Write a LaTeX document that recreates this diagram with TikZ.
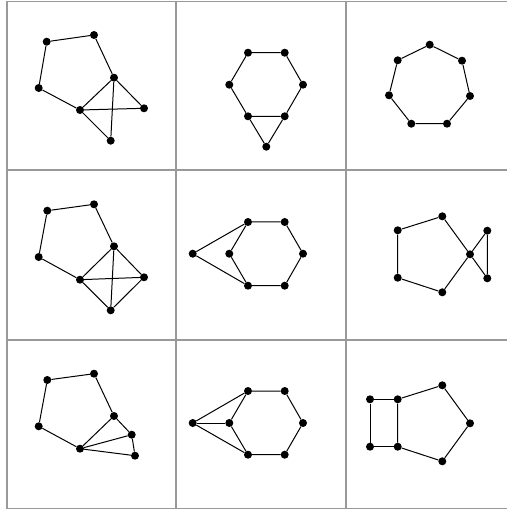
\documentclass[tikz,border=0pt]{standalone}
\usepackage{tikz}
\usetikzlibrary{positioning}

\begin{document}
\begin{tikzpicture}[
    x=1pt, y=-1pt,
    vertex/.style={circle, fill=black, inner sep=0pt, minimum size=8pt},
    edge/.style={line width=1pt, black},
    gridline/.style={line width=1.1pt, black!40}
]
    \useasboundingbox (0,0) rectangle (507,510);

    % Grid
    \draw[gridline] (7,1.5) -- (507,1.5);
    \draw[gridline] (7,170) -- (507,170);
    \draw[gridline] (7,340) -- (507,340);
    \draw[gridline] (7,508.5) -- (507,508.5);
    \draw[gridline] (7,1.5) -- (7,508.5);
    \draw[gridline] (176,1.5) -- (176,508.5);
    \draw[gridline] (346,1.5) -- (346,508.5);

    % Cell 1: pentagon with triangle and spike
    \node[vertex] (pa) at (46.7,41.7) {};
    \node[vertex] (pb) at (94,35) {};
    \node[vertex] (pc) at (114,77.7) {};
    \node[vertex] (pd) at (144,108.3) {};
    \node[vertex] (pe) at (110.7,140.7) {};
    \node[vertex] (pf) at (80,110) {};
    \node[vertex] (pg) at (38.7,88) {};
    \draw[edge] (pa) -- (pb);
    \draw[edge] (pb) -- (pc);
    \draw[edge] (pc) -- (pd);
    \draw[edge] (pc) -- (pf);
    \draw[edge] (pf) -- (pd);
    \draw[edge] (pf) -- (pe);
    \draw[edge] (pc) -- (pe);
    \draw[edge] (pg) -- (pa);
    \draw[edge] (pg) -- (pf);

    % Cell 2: hexagon with triangle below
    \node[vertex] (ha) at (248,52.7) {};
    \node[vertex] (hb) at (284.7,52.7) {};
    \node[vertex] (hc) at (303,84.7) {};
    \node[vertex] (hd) at (284.7,116.3) {};
    \node[vertex] (he) at (248,116.3) {};
    \node[vertex] (hf) at (229.3,84.7) {};
    \node[vertex] (hg) at (266.3,146.7) {};
    \draw[edge] (ha) -- (hb) -- (hc) -- (hd) -- (he) -- (hf) -- (ha);
    \draw[edge] (hd) -- (hg) -- (he);

    % Cell 3: heptagon
    \node[vertex] (sa) at (429.7,44.7) {};
    \node[vertex] (sb) at (462,60.7) {};
    \node[vertex] (sc) at (470,96) {};
    \node[vertex] (sd) at (447,123.7) {};
    \node[vertex] (se) at (411.3,123.7) {};
    \node[vertex] (sf) at (389,95.3) {};
    \node[vertex] (sg) at (397.7,60.3) {};
    \draw[edge] (sa) -- (sb) -- (sc) -- (sd) -- (se) -- (sf) -- (sg) -- (sa);

    % Cell 4: pentagon with complete quad
    \node[vertex] (qa) at (47.3,210.7) {};
    \node[vertex] (qb) at (94,204.3) {};
    \node[vertex] (qc) at (114,246.3) {};
    \node[vertex] (qd) at (144,277.3) {};
    \node[vertex] (qe) at (110.7,310.3) {};
    \node[vertex] (qf) at (80,279.7) {};
    \node[vertex] (qg) at (38.7,257) {};
    \draw[edge] (qa) -- (qb);
    \draw[edge] (qb) -- (qc);
    \draw[edge] (qc) -- (qd);
    \draw[edge] (qc) -- (qf);
    \draw[edge] (qc) -- (qe);
    \draw[edge] (qf) -- (qd);
    \draw[edge] (qf) -- (qe);
    \draw[edge] (qd) -- (qe);
    \draw[edge] (qg) -- (qa);
    \draw[edge] (qg) -- (qf);

    % Cell 5: hexagon with outer vertex
    \node[vertex] (ka) at (248,222) {};
    \node[vertex] (kb) at (284.7,222) {};
    \node[vertex] (kc) at (303,253.7) {};
    \node[vertex] (kd) at (284.7,285.7) {};
    \node[vertex] (ke) at (248,285.7) {};
    \node[vertex] (kf) at (229.3,253.7) {};
    \node[vertex] (kg) at (192.7,253.7) {};
    \draw[edge] (ka) -- (kb) -- (kc) -- (kd) -- (ke) -- (kf) -- (ka);
    \draw[edge] (ka) -- (kg) -- (ke);

    % Cell 6: pentagon and triangle sharing a vertex
    \node[vertex] (ba) at (397.7,230.3) {};
    \node[vertex] (bb) at (442.3,216.3) {};
    \node[vertex] (bc) at (470,254.3) {};
    \node[vertex] (bd) at (442.3,292.3) {};
    \node[vertex] (be) at (397.7,277.7) {};
    \node[vertex] (bf) at (487.3,230.7) {};
    \node[vertex] (bg) at (487.3,278.3) {};
    \draw[edge] (ba) -- (bb) -- (bc) -- (bd) -- (be) -- (ba);
    \draw[edge] (bc) -- (bf) -- (bg) -- (bc);

    % Cell 7: pentagon with fan
    \node[vertex] (fa) at (47.3,380) {};
    \node[vertex] (fb) at (94,373.7) {};
    \node[vertex] (fc) at (114,416) {};
    \node[vertex] (fh) at (131.7,434.7) {};
    \node[vertex] (fi) at (135,455.7) {};
    \node[vertex] (ff) at (80,448.7) {};
    \node[vertex] (fg) at (38.7,426.3) {};
    \draw[edge] (fa) -- (fb);
    \draw[edge] (fb) -- (fc);
    \draw[edge] (fc) -- (ff);
    \draw[edge] (fc) -- (fh);
    \draw[edge] (fh) -- (ff);
    \draw[edge] (fh) -- (fi);
    \draw[edge] (fi) -- (ff);
    \draw[edge] (fg) -- (fa);
    \draw[edge] (fg) -- (ff);

    % Cell 8: hexagon with outer vertex of degree three
    \node[vertex] (ta) at (248,391) {};
    \node[vertex] (tb) at (284.7,391) {};
    \node[vertex] (tc) at (303,423) {};
    \node[vertex] (td) at (284.7,454.7) {};
    \node[vertex] (te) at (248,454.7) {};
    \node[vertex] (tf) at (229.3,423) {};
    \node[vertex] (tg) at (192.7,423) {};
    \draw[edge] (ta) -- (tb) -- (tc) -- (td) -- (te) -- (tf) -- (ta);
    \draw[edge] (ta) -- (tg) -- (te);
    \draw[edge] (tg) -- (tf);

    % Cell 9: square and pentagon sharing an edge
    \node[vertex] (ra) at (370,399.3) {};
    \node[vertex] (rb) at (397.7,399.3) {};
    \node[vertex] (rc) at (442.3,385.3) {};
    \node[vertex] (rd) at (470,423.3) {};
    \node[vertex] (re) at (442.3,461.3) {};
    \node[vertex] (rf) at (397.7,446.7) {};
    \node[vertex] (rg) at (370,446.7) {};
    \draw[edge] (rb) -- (rc) -- (rd) -- (re) -- (rf) -- (rb);
    \draw[edge] (ra) -- (rb);
    \draw[edge] (rf) -- (rg) -- (ra);

\end{tikzpicture}
\end{document}
